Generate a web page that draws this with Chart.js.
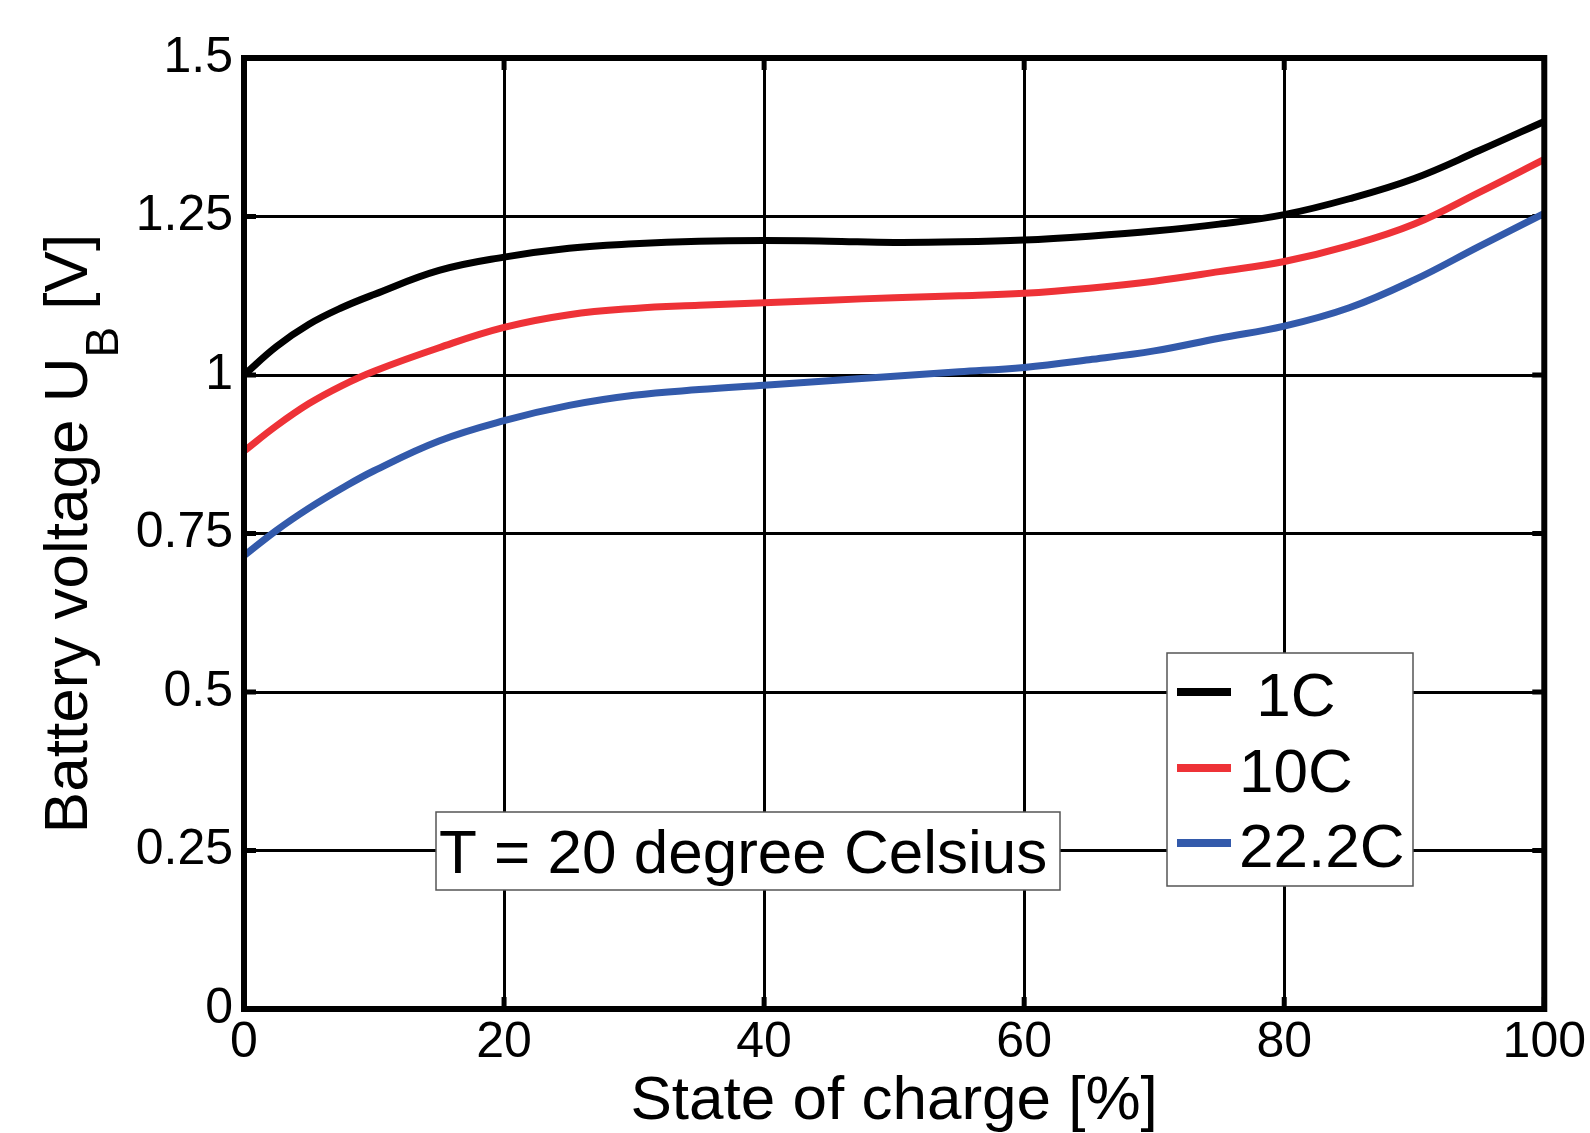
<!DOCTYPE html>
<html>
<head>
<meta charset="utf-8">
<title>Battery voltage vs state of charge</title>
<script src="https://cdn.jsdelivr.net/npm/chart.js@4.4.1/dist/chart.umd.min.js"></script>
<style>
  html, body { margin: 0; padding: 0; background: #fff; }
  canvas { display: block; }
</style>
</head>
<body>
<canvas id="myChart" width="1590" height="1133"></canvas>
<script>
// state of charge [%] sample points
const socPoints = [0, 2.5, 5, 7.5, 10, 15, 20, 25, 30, 35, 40, 45, 50, 55, 60, 65, 70, 75, 80, 85, 90, 95, 100];

// battery voltage [V] for each discharge rate
const voltage1C = [1.0, 1.045, 1.08, 1.106, 1.127, 1.165, 1.186, 1.2, 1.207, 1.211, 1.212, 1.211, 1.209, 1.21, 1.213, 1.219, 1.227, 1.238, 1.253, 1.278, 1.31, 1.354, 1.4];
const voltage10C = [0.88, 0.92, 0.955, 0.983, 1.006, 1.043, 1.075, 1.095, 1.105, 1.11, 1.114, 1.118, 1.122, 1.125, 1.129, 1.137, 1.148, 1.163, 1.179, 1.204, 1.238, 1.288, 1.34];
const voltage22C = [0.715, 0.755, 0.79, 0.821, 0.849, 0.896, 0.928, 0.952, 0.968, 0.977, 0.984, 0.991, 0.998, 1.005, 1.012, 1.024, 1.038, 1.058, 1.077, 1.106, 1.15, 1.203, 1.255];

const seriesLabels = [" 1C", "10C", "22.2C"];
const seriesColors = ["#000000", "#ee3237", "#335aab"];

const xTickLabels = ["0", "20", "40", "60", "80", "100"];
const yTickLabels = ["0", "0.25", "0.5", "0.75", "1", "1.25", "1.5"];

const xTitle = "State of charge [%]";
const yTitleMain = "Battery voltage U";
const yTitleSub = "B";
const yTitleEnd = " [V]";
const noteText = "T = 20 degree Celsius";

const FONT = '"Liberation Sans", Arial, Helvetica, sans-serif';

function toPoints(values) {
  return socPoints.map((x, i) => ({ x: x, y: values[i] }));
}

// frame, inward ticks, axis titles, legend and the temperature note
const decorations = {
  id: "decorations",
  beforeDatasetsDraw(chart) {
    const { ctx, chartArea: a } = chart;
    const xs = chart.scales.x;
    const ys = chart.scales.y;
    ctx.save();
    ctx.strokeStyle = "#000";
    ctx.lineWidth = 5;
    ctx.lineCap = "butt";
    const tl = 12;
    xs.ticks.forEach((t) => {
      const px = xs.getPixelForValue(t.value);
      ctx.beginPath();
      ctx.moveTo(px, a.bottom);
      ctx.lineTo(px, a.bottom - tl);
      ctx.moveTo(px, a.top);
      ctx.lineTo(px, a.top + tl);
      ctx.stroke();
    });
    ys.ticks.forEach((t) => {
      const py = ys.getPixelForValue(t.value);
      ctx.beginPath();
      ctx.moveTo(a.left, py);
      ctx.lineTo(a.left + tl, py);
      ctx.moveTo(a.right, py);
      ctx.lineTo(a.right - tl, py);
      ctx.stroke();
    });
    ctx.restore();
  },
  afterDraw(chart) {
    const { ctx, chartArea: a } = chart;
    ctx.save();

    // plot frame
    ctx.strokeStyle = "#000";
    ctx.lineWidth = 6;
    ctx.strokeRect(a.left, a.top, a.right - a.left, a.bottom - a.top);

    // x axis title
    ctx.fillStyle = "#000";
    ctx.font = "62px " + FONT;
    ctx.textAlign = "center";
    ctx.textBaseline = "alphabetic";
    ctx.fillText(xTitle, (a.left + a.right) / 2, 1119);

    // y axis title with subscript
    ctx.save();
    const cy = (a.top + a.bottom) / 2;
    ctx.translate(87, cy);
    ctx.rotate(-Math.PI / 2);
    ctx.font = "62px " + FONT;
    const w1 = ctx.measureText(yTitleMain).width;
    const w3 = ctx.measureText(yTitleEnd).width;
    ctx.font = "46px " + FONT;
    const w2 = ctx.measureText(yTitleSub).width;
    let tx = -(w1 + w2 + w3) / 2;
    ctx.textAlign = "left";
    ctx.font = "62px " + FONT;
    ctx.fillText(yTitleMain, tx, 0);
    tx += w1;
    ctx.font = "46px " + FONT;
    ctx.fillText(yTitleSub, tx, 31);
    tx += w2;
    ctx.font = "62px " + FONT;
    ctx.fillText(yTitleEnd, tx, 0);
    ctx.restore();

    // temperature note
    ctx.font = "62px " + FONT;
    ctx.fillStyle = "#fff";
    ctx.fillRect(436, 812, 624, 78);
    ctx.strokeStyle = "#555";
    ctx.lineWidth = 1.5;
    ctx.strokeRect(436, 812, 624, 78);
    ctx.fillStyle = "#000";
    ctx.textAlign = "left";
    ctx.fillText(noteText, 439, 873);

    // legend
    const lx = 1167, ly = 653, lw = 246, lh = 233;
    ctx.fillStyle = "#fff";
    ctx.fillRect(lx, ly, lw, lh);
    ctx.strokeStyle = "#555";
    ctx.lineWidth = 1.5;
    ctx.strokeRect(lx, ly, lw, lh);
    const rows = [692, 768, 843];
    chart.data.datasets.forEach((ds, i) => {
      ctx.strokeStyle = ds.borderColor;
      ctx.lineWidth = 8;
      ctx.beginPath();
      ctx.moveTo(1177, rows[i]);
      ctx.lineTo(1231, rows[i]);
      ctx.stroke();
      ctx.fillStyle = "#000";
      ctx.font = "62px " + FONT;
      ctx.textBaseline = "alphabetic";
      ctx.fillText(ds.label, 1239, rows[i] + 24);
    });

    ctx.restore();
  },
};

const datasets = [voltage1C, voltage10C, voltage22C].map((values, i) => ({
  label: seriesLabels[i],
  data: toPoints(values),
  borderColor: seriesColors[i],
  backgroundColor: seriesColors[i],
  borderWidth: 7,
  pointRadius: 0,
  tension: 0.4,
  fill: false,
}));

const ctx = document.getElementById("myChart");
const myChart = new Chart(ctx, {
  type: "line",
  data: { datasets: datasets },
  options: {
    responsive: false,
    animation: false,
    devicePixelRatio: 1,
    layout: { padding: { top: 58, right: 43, left: 0, bottom: 0 } },
    plugins: {
      legend: { display: false },
      tooltip: { enabled: false },
    },
    scales: {
      x: {
        type: "linear",
        min: 0,
        max: 100,
        afterFit: (scale) => { scale.height = 124; },
        afterBuildTicks: (scale) => {
          scale.ticks = xTickLabels.map((t) => ({ value: Number(t) }));
        },
        ticks: {
          autoSkip: false,
          maxRotation: 0,
          padding: 4,
          color: "#000",
          font: { family: FONT, size: 50 },
          callback: (v) => xTickLabels[xTickLabels.indexOf(String(v))],
        },
        grid: { color: "#000", lineWidth: 3, drawTicks: false },
        border: { display: false },
      },
      y: {
        type: "linear",
        min: 0,
        max: 1.5,
        afterFit: (scale) => { scale.width = 244; },
        afterBuildTicks: (scale) => {
          scale.ticks = yTickLabels.map((t) => ({ value: Number(t) }));
        },
        ticks: {
          autoSkip: false,
          padding: 11,
          color: "#000",
          font: { family: FONT, size: 50 },
          callback: (v) => yTickLabels[yTickLabels.indexOf(String(v))],
        },
        grid: { color: "#000", lineWidth: 3, drawTicks: false },
        border: { display: false },
      },
    },
  },
  plugins: [decorations],
});
</script>
</body>
</html>
